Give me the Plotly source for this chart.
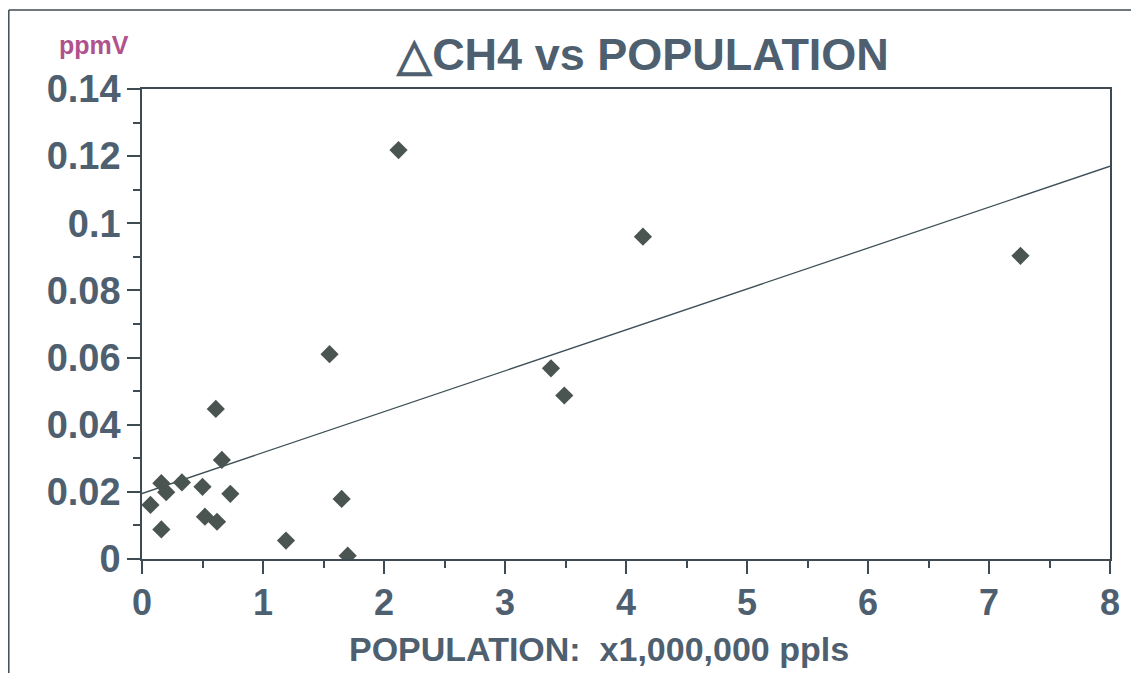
import plotly.graph_objects as go

# Data
population = [0.07, 0.16, 0.20, 0.16, 0.33, 0.50, 0.52, 0.61, 0.66, 0.62, 0.73,
              1.19, 1.65, 1.70, 1.55, 2.12, 3.38, 3.49, 4.14, 7.26]
delta_ch4 = [0.0161, 0.0226, 0.0199, 0.0088, 0.0228, 0.0215, 0.0126, 0.0447, 0.0295, 0.0111, 0.0194,
             0.0055, 0.0179, 0.0010, 0.0610, 0.1218, 0.0568, 0.0487, 0.0960, 0.0903]
trend_x = [0, 8]
trend_y = [0.0195, 0.1170]

x_ticks = [0, 1, 2, 3, 4, 5, 6, 7, 8]
y_ticks = [0, 0.02, 0.04, 0.06, 0.08, 0.1, 0.12, 0.14]
y_tick_labels = ["0", "0.02", "0.04", "0.06", "0.08", "0.1", "0.12", "0.14"]

TEXT = "#4e6070"
AX = "#3e4b52"
FONT = "Liberation Sans, Arial, sans-serif"

# page body has an 8px margin; figure sized so the page does not overflow the window
OFF = 8
W, H = 1139 - 2 * OFF, 681 - 2 * OFF
PL, PR, PT, PB = 142, 1110, 89, 559          # plot area in window pixels
L, T = PL - OFF, PT - OFF
R = W - (PR - OFF)
B = H - (PB - OFF)
pw = W - L - R
ph = H - T - B

fig = go.Figure()
fig.add_trace(go.Scatter(x=trend_x, y=trend_y, mode="lines",
                         line=dict(color="#3d4f57", width=1.3),
                         showlegend=False, hoverinfo="skip"))
fig.add_trace(go.Scatter(x=population, y=delta_ch4, mode="markers",
                         marker=dict(symbol="diamond", size=14, color="#4a5552",
                                     line=dict(width=0)),
                         showlegend=False, cliponaxis=True))

# outer frame (runs off the right and bottom edges in the reference)
fx0 = (0.8 - L) / pw
fy1 = (H - B - 2) / ph
fig.add_shape(type="line", xref="paper", yref="paper",
              x0=fx0, x1=(W - L) / pw, y0=fy1, y1=fy1,
              line=dict(color=AX, width=1.5), layer="below")
fig.add_shape(type="line", xref="paper", yref="paper",
              x0=fx0, x1=fx0, y0=fy1, y1=-(H - T - ph) / ph,
              line=dict(color=AX, width=1.5), layer="below")

fig.update_layout(
    width=W, height=H,
    margin=dict(l=L, r=R, t=T, b=B, pad=0),
    paper_bgcolor="white", plot_bgcolor="white",
    font=dict(family=FONT, color=TEXT),
    title=dict(text="\u25b3CH4 vs POPULATION", x=(643 - OFF) / W, xanchor="center",
               y=1 - (54 - OFF) / H, yanchor="middle",
               font=dict(size=45, color=TEXT, family=FONT, weight="bold")),
    xaxis=dict(range=[0, 8], tickvals=x_ticks, ticktext=[str(v) for v in x_ticks],
               showgrid=False, zeroline=False, showline=True, linecolor=AX, linewidth=1.5,
               mirror=True, ticks="outside", ticklen=13, tickcolor=AX, tickwidth=1.5,
               minor=dict(dtick=0.5, ticks="outside", ticklen=7, tickcolor=AX, tickwidth=1.5),
               tickfont=dict(size=36, color=TEXT, family=FONT, weight="bold"),
               ticklabelstandoff=-2, automargin=False),
    yaxis=dict(range=[0, 0.14], tickvals=y_ticks, ticktext=y_tick_labels,
               showgrid=False, zeroline=False, showline=True, linecolor=AX, linewidth=1.5,
               mirror=True, ticks="outside", ticklen=13, tickcolor=AX, tickwidth=1.5,
               minor=dict(dtick=0.01, ticks="outside", ticklen=7, tickcolor=AX, tickwidth=1.5),
               tickfont=dict(size=38, color=TEXT, family=FONT, weight="bold"),
               ticklabelstandoff=-1, automargin=False),
    annotations=[
        dict(text="ppmV", xref="paper", yref="paper",
             x=(57 - OFF - L) / pw, y=(H - B - (45 - OFF)) / ph, xanchor="left", yanchor="middle",
             showarrow=False, font=dict(size=25, color="#b0528e", family=FONT, weight="bold")),
        dict(text="POPULATION:\u00a0\u00a0x1,000,000 ppls", xref="paper", yref="paper",
             x=(599 - OFF - L) / pw, y=-(649 - OFF - (H - B)) / ph, xanchor="center", yanchor="middle",
             showarrow=False, font=dict(size=34, color=TEXT, family=FONT, weight="bold")),
    ],
)

fig.write_html("out.html")
